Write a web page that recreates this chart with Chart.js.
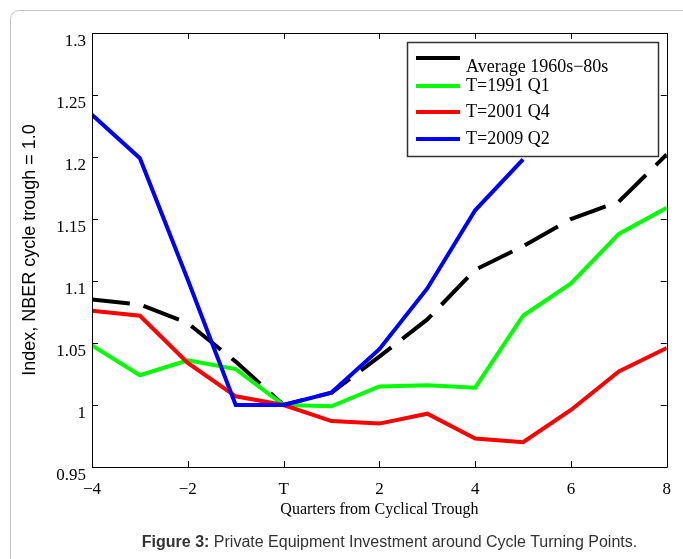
<!DOCTYPE html>
<html>
<head>
<meta charset="utf-8">
<script src="https://cdn.jsdelivr.net/npm/chart.js@4"></script>
<style>
  html, body { margin: 0; padding: 0; background: #fff; }
  #wrap { position: relative; width: 683px; height: 559px; overflow: hidden; }
  #frame { position: absolute; left: 10px; top: 10px; width: 700px; height: 600px;
           border: 1px solid #c4c4c4; border-radius: 9px; box-sizing: border-box; }
  #c { position: absolute; left: 0; top: 0; }
  #caption { position: absolute; left: 0; width: 779px; top: 533px; text-align: center;
             font-family: "Liberation Sans", Arial, sans-serif; font-size: 16px; color: #333; white-space: nowrap; }
</style>
</head>
<body>
<div id="wrap">
  <div id="frame"></div>
  <canvas id="c" width="683" height="559"></canvas>
  <div id="caption"><b>Figure 3:</b> Private Equipment Investment around Cycle Turning Points.</div>
</div>
<script>
const quarters = [-4, -3, -2, -1, 0, 1, 2, 3, 4, 5, 6, 7, 8];
const seriesNames = ['Average 1960s\u221280s', 'T=1991 Q1', 'T=2001 Q4', 'T=2009 Q2'];
const average6080 = [1.085, 1.081, 1.066, 1.035, 1.000, 1.010, 1.039, 1.069, 1.109, 1.128, 1.150, 1.164, 1.202];
const t1991q1     = [1.048, 1.024, 1.036, 1.029, 1.000, 0.999, 1.015, 1.016, 1.014, 1.072, 1.098, 1.138, 1.159];
const t2001q4     = [1.076, 1.072, 1.034, 1.007, 1.000, 0.987, 0.985, 0.993, 0.973, 0.970, 0.996, 1.027, 1.046];
const t2009q2     = [1.234, 1.199, 1.101, 1.000, 1.000, 1.010, 1.045, 1.094, 1.157, 1.198];
const xTicks = [-4, -2, 0, 2, 4, 6, 8];
const xTickLabels = ['\u22124', '\u22122', 'T', '2', '4', '6', '8'];
const yTickLabels = ['0.95', '1', '1.05', '1.1', '1.15', '1.2', '1.25', '1.3'];

function pts(vals) { return vals.map((v, i) => ({ x: quarters[i], y: v })); }

const colors = ['#000000', '#00ff00', '#ff0000', '#0000ff'];
const dashes = [[38, 14], [], [], []];
const seriesData = [average6080, t1991q1, t2001q4, t2009q2];

const datasets = seriesData.map((d, i) => ({
  label: seriesNames[i],
  data: pts(d),
  borderColor: colors[i],
  backgroundColor: colors[i],
  borderWidth: 4,
  borderDash: dashes[i],
  pointRadius: 0,
  tension: 0,
  fill: false,
  order: 4 - i
}));

const framePlugin = {
  id: 'framePlugin',
  afterDatasetsDraw(chart) {
    const ctx = chart.ctx;
    const a = chart.chartArea;
    const xs = chart.scales.x, ys = chart.scales.y;
    ctx.save();
    ctx.strokeStyle = '#000';
    ctx.lineWidth = 1;
    ctx.beginPath();
    ctx.rect(Math.round(a.left) + 0.5, Math.round(a.top) + 0.5, Math.round(a.right - a.left), Math.round(a.bottom - a.top));
    ctx.stroke();
    const tl = 6;
    ctx.beginPath();
    xs.ticks.forEach(t => {
      const px = Math.round(xs.getPixelForValue(t.value)) + 0.5;
      ctx.moveTo(px, a.bottom); ctx.lineTo(px, a.bottom - tl);
      ctx.moveTo(px, a.top); ctx.lineTo(px, a.top + tl);
    });
    ys.ticks.forEach(t => {
      const py = Math.round(ys.getPixelForValue(t.value)) + 0.5;
      ctx.moveTo(a.left, py); ctx.lineTo(a.left + tl, py);
      ctx.moveTo(a.right, py); ctx.lineTo(a.right - tl, py);
    });
    ctx.stroke();

    // legend
    const lx = 407, ly = 42, lw = 251, lh = 114;
    ctx.fillStyle = '#fff';
    ctx.fillRect(lx, ly, lw, lh);
    ctx.strokeStyle = '#333';
    ctx.lineWidth = 1.5;
    ctx.strokeRect(lx + 0.5, ly + 0.5, lw, lh);
    const lineYs = [58, 86, 112, 139];
    const textYs = [67, 86, 112, 139];
    ctx.font = '18px "Liberation Serif", "Times New Roman", serif';
    ctx.textBaseline = 'middle';
    ctx.textAlign = 'left';
    chart.data.datasets.forEach((ds, i) => {
      ctx.strokeStyle = ds.borderColor;
      ctx.lineWidth = 4;
      ctx.setLineDash([]);
      ctx.beginPath();
      ctx.moveTo(416, lineYs[i]); ctx.lineTo(460, lineYs[i]);
      ctx.stroke();
      ctx.fillStyle = '#000';
      ctx.fillText(ds.label, 466, textYs[i]);
    });
    ctx.restore();
  }
};

new Chart(document.getElementById('c'), {
  type: 'line',
  data: { datasets },
  options: {
    responsive: false,
    animation: false,
    devicePixelRatio: 1,
    layout: { padding: { left: 0, top: 33, right: 15, bottom: 0 } },
    plugins: { legend: { display: false }, tooltip: { enabled: false } },
    scales: {
      x: {
        type: 'linear', min: -4, max: 8,
        afterBuildTicks(scale) { scale.ticks = xTicks.map(v => ({ value: v })); },
        afterFit(scale) { scale.height = 92; },
        grid: { display: false, drawTicks: false },
        border: { display: false },
        ticks: {
          padding: 12,
          color: '#000',
          font: { family: '"Liberation Serif", "Times New Roman", serif', size: 17 },
          callback: (v) => { const k = xTicks.indexOf(v); return k >= 0 ? xTickLabels[k] : ''; },
          maxRotation: 0
        },
        title: {
          display: true, text: 'Quarters from Cyclical Trough', color: '#000',
          font: { family: '"Liberation Serif", "Times New Roman", serif', size: 16 },
          padding: { top: 0, bottom: 40 }
        }
      },
      y: {
        type: 'linear', min: 0.95, max: 1.3,
        afterBuildTicks(scale) { scale.ticks = yTickLabels.map(s => ({ value: parseFloat(s) })); },
        afterFit(scale) { scale.width = 92; },
        grid: { display: false, drawTicks: false },
        border: { display: false },
        ticks: {
          padding: 6,
          labelOffset: 9,
          color: '#000',
          font: { family: '"Liberation Serif", "Times New Roman", serif', size: 17 },
          callback: (v) => { const k = yTickLabels.findIndex(s => Math.abs(parseFloat(s) - v) < 1e-9); return k >= 0 ? yTickLabels[k] : ''; }
        },
        title: {
          display: true, text: 'Index, NBER cycle trough = 1.0', color: '#000',
          font: { family: '"Liberation Sans", Arial, sans-serif', size: 18 },
          padding: { top: 19, bottom: 0 }
        }
      }
    }
  },
  plugins: [framePlugin]
});
</script>
</body>
</html>
